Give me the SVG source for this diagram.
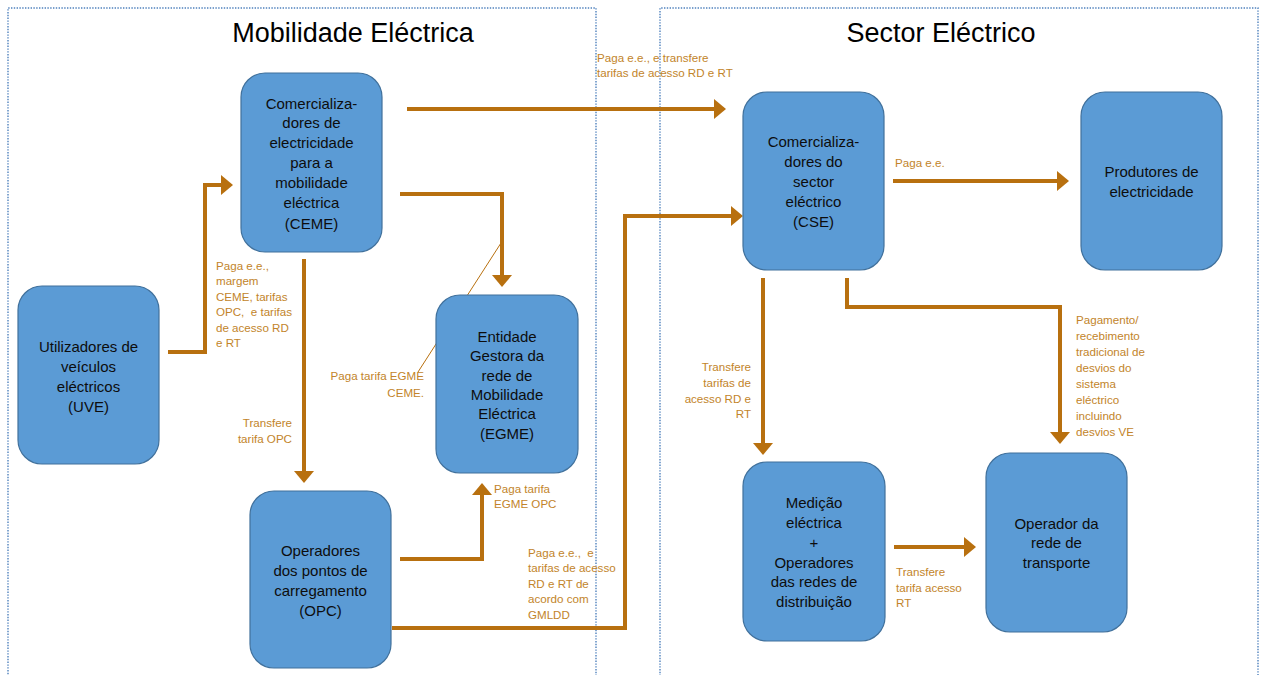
<svg xmlns="http://www.w3.org/2000/svg" width="1261" height="675" viewBox="0 0 1261 675">
<style>
.frame{fill:none;stroke:#4f81bd;stroke-width:1.4;stroke-dasharray:1.4 1.4}
.title{font-family:"Liberation Sans",Arial,sans-serif;font-size:27px;fill:#000;text-anchor:middle}
.box{fill:#5b9bd5;stroke:#41719c;stroke-width:1.2}
.nt{font-family:"Liberation Sans",Arial,sans-serif;font-size:15px;fill:#0d0d0d;text-anchor:middle}
.lbl{font-family:"Liberation Sans",Arial,sans-serif;font-size:11.6px;fill:#c2842a;white-space:pre}
.end{text-anchor:end}
.conn{fill:none;stroke:#b8700f;stroke-width:4;marker-end:url(#ah)}
.thin{fill:none;stroke:#b8700f;stroke-width:1}
</style>
<defs>
<marker id="ah" markerUnits="strokeWidth" markerWidth="3" markerHeight="5" refX="0" refY="2.5" orient="auto" overflow="visible">
<path d="M0,0 L3,2.5 L0,5 z" fill="#b8700f"/>
</marker>
</defs>
<rect width="1261" height="675" fill="#fff"/>
<g id="frames">
<path class="frame" d="M596,690 V8 H8 V690"/>
<path class="frame" d="M660,690 V8 H1258 V690"/>
<text class="title" x="353" y="42">Mobilidade Eléctrica</text>
<text class="title" x="941" y="42">Sector Eléctrico</text>
</g>
<g id="connectors">
<path class="conn" d="M168,352 H205 V185 H221"/>
<path class="conn" d="M407,109 H714"/>
<path class="conn" d="M400,194 H502 V275"/>
<path class="thin" d="M501,243 L418,372"/>
<path class="conn" d="M304,259 V471"/>
<path class="conn" d="M400,559 H482 V495"/>
<path class="conn" d="M392,628 H625 V216 H731"/>
<path class="conn" d="M893,181 H1057"/>
<path class="conn" d="M763,278 V443"/>
<path class="conn" d="M847,278 V307 H1060 V432"/>
<path class="conn" d="M894,547 H964"/>
<text class="lbl"><tspan x="597" y="62">Paga e.e., e transfere</tspan><tspan x="597" y="77">tarifas de acesso RD e RT</tspan></text>
<text class="lbl" x="895" y="167">Paga e.e.</text>
<text class="lbl" xml:space="preserve"><tspan x="216" y="270">Paga e.e.,</tspan><tspan x="216" y="285">margem</tspan><tspan x="216" y="301">CEME, tarifas</tspan><tspan x="216" y="316">OPC,  e tarifas</tspan><tspan x="216" y="332">de acesso RD</tspan><tspan x="216" y="347">e RT</tspan></text>
<text class="lbl end"><tspan x="292" y="427">Transfere</tspan><tspan x="292" y="443">tarifa OPC</tspan></text>
<text class="lbl end"><tspan x="424" y="380">Paga tarifa EGME</tspan><tspan x="424" y="397">CEME.</tspan></text>
<text class="lbl"><tspan x="494" y="493">Paga tarifa</tspan><tspan x="494" y="508">EGME OPC</tspan></text>
<text class="lbl" xml:space="preserve"><tspan x="528" y="557">Paga e.e.,  e</tspan><tspan x="528" y="572">tarifas de acesso</tspan><tspan x="528" y="588">RD e RT de</tspan><tspan x="528" y="603">acordo com</tspan><tspan x="528" y="619">GMLDD</tspan></text>
<text class="lbl end"><tspan x="751" y="371">Transfere</tspan><tspan x="751" y="387">tarifas de</tspan><tspan x="751" y="403">acesso RD e</tspan><tspan x="751" y="418">RT</tspan></text>
<text class="lbl"><tspan x="1076" y="324">Pagamento/</tspan><tspan x="1076" y="340">recebimento</tspan><tspan x="1076" y="356">tradicional de</tspan><tspan x="1076" y="372">desvios do</tspan><tspan x="1076" y="388">sistema</tspan><tspan x="1076" y="404">eléctrico</tspan><tspan x="1076" y="420">incluindo</tspan><tspan x="1076" y="436">desvios VE</tspan></text>
<text class="lbl"><tspan x="896" y="576">Transfere</tspan><tspan x="896" y="592">tarifa acesso</tspan><tspan x="896" y="607">RT</tspan></text>
</g>
<g id="ceme">
<rect class="box" x="241" y="73" width="141" height="179" rx="24"/>
<text class="nt"><tspan x="311.5" y="109">Comercializa-</tspan><tspan x="311.5" y="128">dores de</tspan><tspan x="311.5" y="148">electricidade</tspan><tspan x="311.5" y="168">para a</tspan><tspan x="311.5" y="188">mobilidade</tspan><tspan x="311.5" y="208">eléctrica</tspan><tspan x="311.5" y="229">(CEME)</tspan></text>
</g>
<g id="uve">
<rect class="box" x="18" y="286" width="141" height="178" rx="24"/>
<text class="nt"><tspan x="88.5" y="352">Utilizadores de</tspan><tspan x="88.5" y="372">veículos</tspan><tspan x="88.5" y="392">eléctricos</tspan><tspan x="88.5" y="412">(UVE)</tspan></text>
</g>
<g id="egme">
<rect class="box" x="436" y="295" width="142" height="178" rx="24"/>
<text class="nt"><tspan x="507" y="342">Entidade</tspan><tspan x="507" y="361">Gestora da</tspan><tspan x="507" y="381">rede de</tspan><tspan x="507" y="400">Mobilidade</tspan><tspan x="507" y="419">Eléctrica</tspan><tspan x="507" y="439">(EGME)</tspan></text>
</g>
<g id="opc">
<rect class="box" x="250" y="491" width="141" height="177" rx="24"/>
<text class="nt"><tspan x="320.5" y="556">Operadores</tspan><tspan x="320.5" y="576">dos pontos de</tspan><tspan x="320.5" y="596">carregamento</tspan><tspan x="320.5" y="616">(OPC)</tspan></text>
</g>
<g id="cse">
<rect class="box" x="743" y="92" width="141" height="178" rx="24"/>
<text class="nt"><tspan x="813.5" y="147">Comercializa-</tspan><tspan x="813.5" y="167">dores do</tspan><tspan x="813.5" y="187">sector</tspan><tspan x="813.5" y="207">eléctrico</tspan><tspan x="813.5" y="227">(CSE)</tspan></text>
</g>
<g id="produtores">
<rect class="box" x="1081" y="92" width="141" height="178" rx="24"/>
<text class="nt"><tspan x="1151.5" y="177">Produtores de</tspan><tspan x="1151.5" y="197">electricidade</tspan></text>
</g>
<g id="medicao">
<rect class="box" x="743" y="462" width="142" height="179" rx="24"/>
<text class="nt"><tspan x="814" y="508">Medição</tspan><tspan x="814" y="528">eléctrica</tspan><tspan x="814" y="548">+</tspan><tspan x="814" y="568">Operadores</tspan><tspan x="814" y="587">das redes de</tspan><tspan x="814" y="607">distribuição</tspan></text>
</g>
<g id="operador-transporte">
<rect class="box" x="986" y="453" width="141" height="179" rx="24"/>
<text class="nt"><tspan x="1056.5" y="529">Operador da</tspan><tspan x="1056.5" y="548">rede de</tspan><tspan x="1056.5" y="568">transporte</tspan></text>
</g>
</svg>
